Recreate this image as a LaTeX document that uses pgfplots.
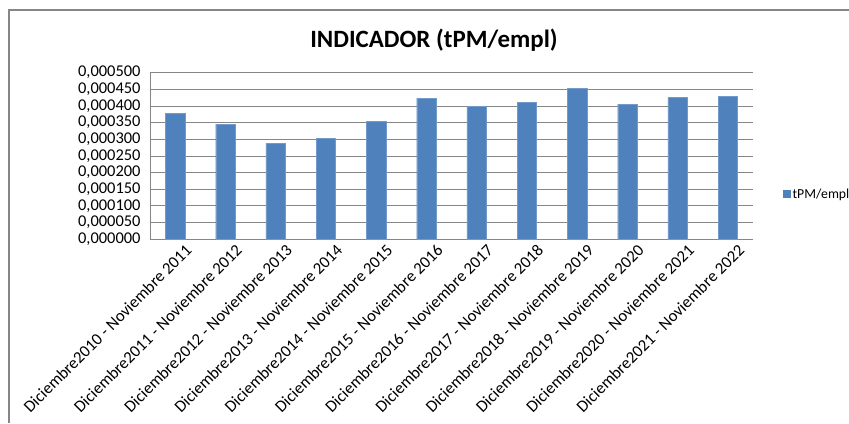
\documentclass[border=0pt]{standalone}
\usepackage{pgfplots}
\pgfplotsset{compat=1.18}
\usepackage{fontspec}
\setmainfont{Carlito}
\definecolor{barblue}{HTML}{4F81BD}
\definecolor{gridgray}{HTML}{868686}
\begin{document}
\begin{tikzpicture}[x=1bp,y=1bp]
\useasboundingbox (0,0) rectangle (849,423);
% chart area frame (top and left edges visible)
\draw[gridgray, line width=1.2bp] (9,0) -- (9,413) -- (849,413);
\node[font=\bfseries\fontsize{25}{28}\selectfont] at (434,383) {INDICADOR (tPM/empl)};
\begin{axis}[
    at={(150bp,183.7bp)}, anchor=south west,
    scale only axis,
    width=603bp, height=166.6bp,
    ybar, bar width=19.3bp,
    xmin=-0.5, xmax=11.5,
    ymin=0, ymax=0.0005,
    ytick={0,0.00005,0.0001,0.00015,0.0002,0.00025,0.0003,0.00035,0.0004,0.00045,0.0005},
    xtick=data,
    xticklabels={Diciembre2010 - Noviembre 2011, Diciembre2011 - Noviembre 2012, Diciembre2012 - Noviembre 2013, Diciembre2013 - Noviembre 2014, Diciembre2014 - Noviembre 2015, Diciembre2015 - Noviembre 2016, Diciembre2016 - Noviembre 2017, Diciembre2017 - Noviembre 2018, Diciembre2018 - Noviembre 2019, Diciembre2019 - Noviembre 2020, Diciembre2020 - Noviembre 2021, Diciembre2021 - Noviembre 2022},
    xticklabel style={rotate=45, anchor=north east, font=\fontsize{16.8}{18}\selectfont, inner sep=1bp, xshift=5bp, yshift=-8bp},
    yticklabel style={font=\fontsize{16.5}{18}\selectfont, xshift=-6bp},
    scaled y ticks=false,
    yticklabel={\pgfmathprintnumber[fixed, fixed zerofill, precision=6, use comma, assume math mode=true]{\tick}},
    axis x line*=bottom, axis y line*=left,
    axis line style={gridgray, line width=1bp},
    major tick length=0pt,
    ymajorgrids=true,
    grid style={gridgray, line width=1bp},
    legend style={at={(1.0498,0.272)}, anchor=west, draw=none, fill=none,
        font=\fontsize{13.8}{15}\selectfont, inner sep=0pt},
    legend cell align=left,
    legend image code/.code={\fill[barblue] (0bp,-3.5bp) rectangle (7bp,3.5bp);},
]
\addplot[fill=barblue, draw=barblue!80!white] coordinates {
    (0,0.000377)
    (1,0.000346)
    (2,0.000288)
    (3,0.000304)
    (4,0.000354)
    (5,0.000424)
    (6,0.000400)
    (7,0.000410)
    (8,0.000454)
    (9,0.000406)
    (10,0.000426)
    (11,0.000429)
};
\legend{tPM/empl}
\end{axis}
\end{tikzpicture}
\end{document}
